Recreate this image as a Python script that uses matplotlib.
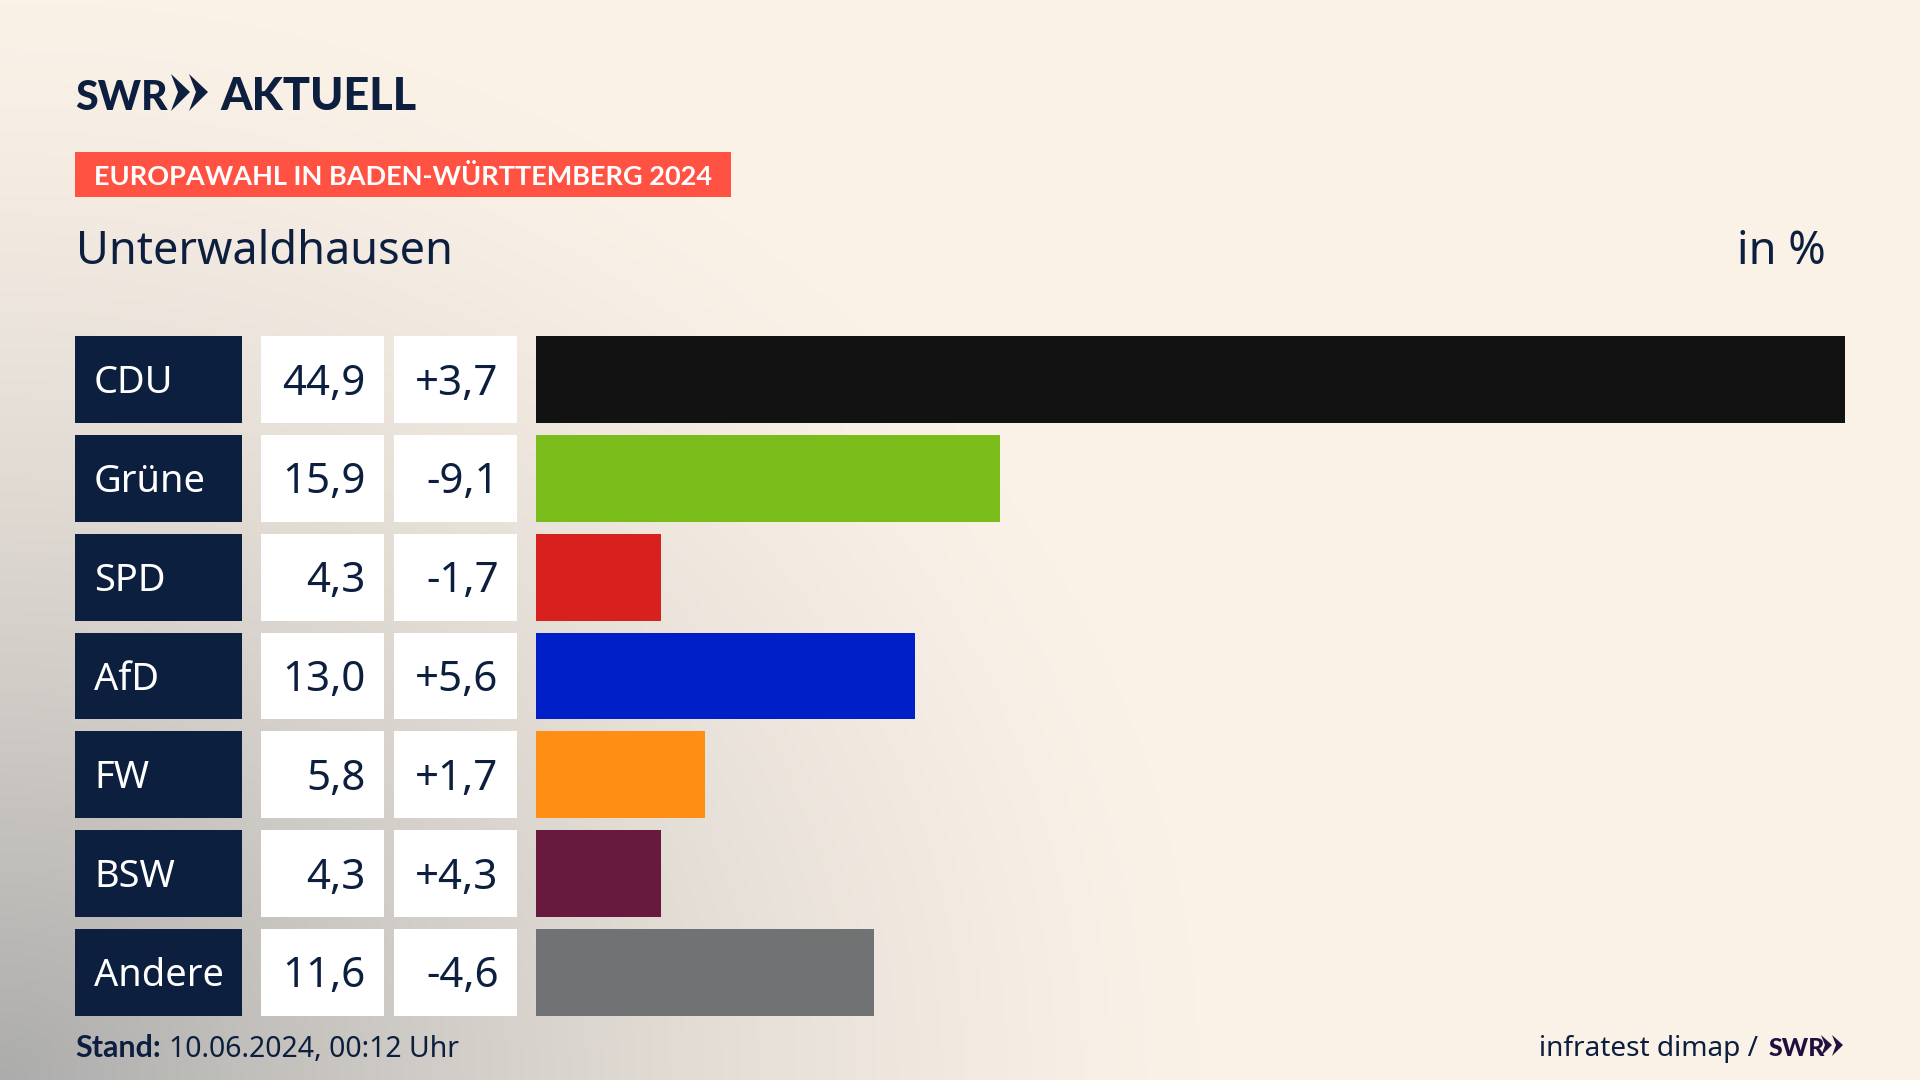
import matplotlib
matplotlib.use("Agg")
import matplotlib.pyplot as plt
import numpy as np
from matplotlib.patches import Polygon, Rectangle

parties = ["CDU", "Grüne", "SPD", "AfD", "FW", "BSW", "Andere"]
shares = [44.9, 15.9, 4.3, 13.0, 5.8, 4.3, 11.6]
changes = ["+3,7", "-9,1", "-1,7", "+5,6", "+1,7", "+4,3", "-4,6"]
bar_colors = ["#121212", "#7ABD1A", "#D8201E", "#001FC8", "#FF8F14", "#681A3E", "#707274"]

NAVY = "#0C1F3F"
CREAM = np.array([250, 241, 231]) / 255
GREY = np.array([172, 172, 171]) / 255

FONT = "Noto Sans"
BOLD = "Lato"  # Noto Sans has no bold cut here


def px(size):
    return size * 72 / 100


fig = plt.figure(figsize=(19.2, 10.8), dpi=100)

# page background, grey glow from the lower left corner
bg = fig.add_axes([0, 0, 1, 1])
yy, xx = np.mgrid[0:1080:270j, 0:1920:480j]
dist = np.sqrt((xx / 1200) ** 2 + ((1080 - yy) / 1080) ** 2)
glow = np.clip(1 - dist, 0, 1)[..., None] ** 1.4
bg.imshow(CREAM * (1 - glow) + GREY * glow, extent=(0, 1920, 1080, 0), aspect="auto")
bg.set_xlim(0, 1920)
bg.set_ylim(1080, 0)
bg.axis("off")

# header
bg.text(75, 110, "SWR", family=BOLD, weight="black", fontsize=px(41), color=NAVY, va="baseline")
bg.text(220, 110, "AKTUELL", family=BOLD, weight="black", fontsize=px(45), color=NAVY, va="baseline")
for x0 in (171, 189):
    bg.add_patch(Polygon([(x0, 74), (x0 + 19, 92), (x0, 111), (x0 + 7, 92)], closed=True, color=NAVY, lw=0))

bg.add_patch(Rectangle((75, 152), 656, 45, color="#FF5242", lw=0))
bg.text(94, 185, "EUROPAWAHL IN BADEN-WÜRTTEMBERG 2024", family=BOLD, weight="bold",
        fontsize=px(27.1), color="white", va="baseline")
bg.text(76, 264, "Unterwaldhausen", family=FONT, fontsize=px(45), color=NAVY, va="baseline")
bg.text(1826, 264, "in %", family=FONT, fontsize=px(45), color=NAVY, ha="right", va="baseline")

# footer
bg.text(75, 1057, "Stand:", family=BOLD, weight="bold", fontsize=px(30.5), color=NAVY, va="baseline")
bg.text(169, 1057, "10.06.2024, 00:12 Uhr", family=FONT, fontsize=px(28.4), color=NAVY, va="baseline")
bg.text(1758, 1056, "infratest dimap /", family=FONT, fontsize=px(28), color=NAVY, ha="right", va="baseline")
bg.text(1769, 1056, "SWR", family=BOLD, weight="black", fontsize=px(25), color="#21103F", va="baseline")
for x0 in (1821, 1832):
    bg.add_patch(Polygon([(x0, 1035), (x0 + 11, 1045), (x0, 1056), (x0 + 4, 1045)], closed=True,
                         color="#21103F", lw=0))


def column(left, right):
    # all rows share one y scale: 7 rows, 98.83 px apart, starting at 330 px
    ax = fig.add_axes([left / 1920, 1 - 1021.9 / 1080, (right - left) / 1920, 691.8 / 1080])
    ax.set_ylim(6.5, -0.5)
    ax.axis("off")
    ax.patch.set_alpha(0)
    return ax


def cell_text(ax, row, text, x, color, size, base, ha="right"):
    ax.annotate(text, xy=(x, row), xycoords=("axes fraction", "data"),
                xytext=(0, px(-base)), textcoords="offset points",
                family=FONT, fontsize=px(size), color=color, ha=ha, va="baseline")


ROW_H = 87 / 98.83
rows = np.arange(len(parties))

ax_names = column(75, 242)
ax_names.barh(rows, [1] * len(rows), height=ROW_H, color=NAVY)
ax_names.set_xlim(0, 1)

ax_vals = column(261, 384)
ax_vals.barh(rows, [1] * len(rows), height=ROW_H, color="white")
ax_vals.set_xlim(0, 1)

ax_diff = column(394, 517)
ax_diff.barh(rows, [1] * len(rows), height=ROW_H, color="white")
ax_diff.set_xlim(0, 1)

ax_bars = column(536, 1845)
ax_bars.barh(rows, shares, height=ROW_H, color=bar_colors)
ax_bars.set_xlim(0, max(shares))

for i, row in enumerate(rows):
    cell_text(ax_names, row, parties[i], 19 / 167, "white", 38, 13.5, ha="left")
    cell_text(ax_vals, row, f"{shares[i]:.1f}".replace(".", ","), 104.5 / 123, NAVY, 42, 15)
    cell_text(ax_diff, row, changes[i], 104.5 / 123, NAVY, 42, 15)

fig.savefig("out.png", dpi=100)
